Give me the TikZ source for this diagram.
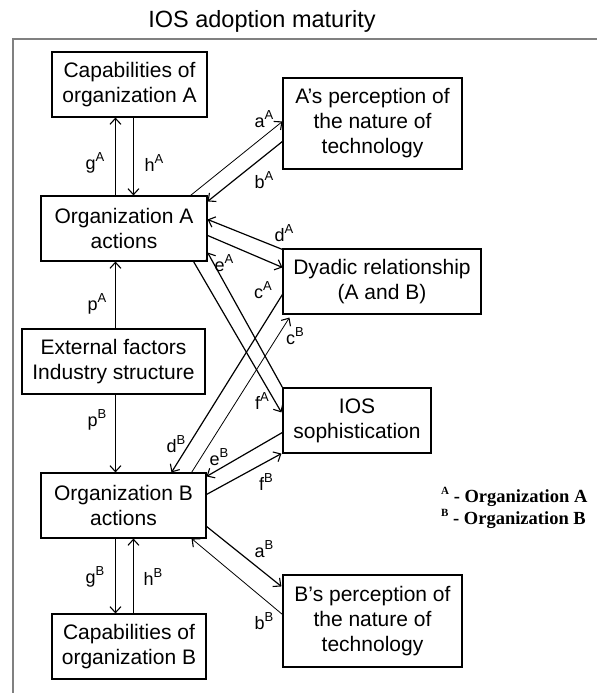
\documentclass[tikz,border=0pt]{standalone}
\usepackage{fontspec}
\setmainfont{Liberation Sans}
\newfontfamily\legendfont{Liberation Serif}
\usetikzlibrary{arrows.meta,calc}

% letter with a raised organisation index, e.g. g^A
\newcommand\edgelabel[2]{#1\raisebox{0.42em}{\fontsize{13}{13}\selectfont #2}}

\begin{document}
\begin{tikzpicture}[x=1pt,y=-1pt,
  box/.style={draw, line width=1.1pt, inner sep=0pt, align=center,
    font=\fontsize{21}{25}\selectfont},
  tip/.style={-{Straight Barb[length=6pt,width=11pt,line width=1.1pt]}},
  thinarrow/.style={tip, line width=0.8pt},
  midarrow/.style={tip, line width=1.2pt},
  thickarrow/.style={tip, line width=1.9pt},
  lab/.style={font=\fontsize{18}{18}\selectfont, inner sep=0pt},
  frame/.style={draw=black!50, line width=1.5pt}
]
\useasboundingbox (0,0) rectangle (597,693);

% heading and the grey frame below it
\node[font=\fontsize{23.5}{23.5}\selectfont, anchor=base] (title) at (262,28) {IOS adoption maturity};
\draw[frame] (13,693) -- (13,39) -- (597,39);

% boxes
\node[box, minimum width=155pt, minimum height=65pt] (capA)  at (129.5,84.5) {Capabilities of\\organization A};
\node[box, minimum width=179pt, minimum height=91pt] (percA) at (372.5,123.5) {A’s perception of\\the nature of\\technology};
\node[box, minimum width=166pt, minimum height=65pt] (orgA)  at (124,228.5) {Organization A\\actions};
\node[box, minimum width=198pt, minimum height=65pt] (dyad)  at (382,281.5) {Dyadic relationship\\(A and B)};
\node[box, minimum width=183pt, minimum height=65pt] (ext)   at (113.5,361.5) {External factors\\Industry structure};
\node[box, minimum width=148pt, minimum height=65pt] (ios)   at (357,420.5) {IOS\\sophistication};
\node[box, minimum width=165pt, minimum height=65pt] (orgB)  at (123.5,505.5) {Organization B\\actions};
\node[box, minimum width=154pt, minimum height=65pt] (capB)  at (129,646.5) {Capabilities of\\organization B};
\node[box, minimum width=179pt, minimum height=92pt] (percB) at (372.5,621) {B’s perception of\\the nature of\\technology};

% organisation A and its capabilities
\draw[thickarrow] ($(orgA.north west)+(75,0)$) -- ($(capA.south west)+(64,0)$);
\draw[thinarrow]  ($(capA.south west)+(82,0)$) -- ($(orgA.north west)+(93,0)$);
% organisation B and its capabilities
\draw[thickarrow] ($(orgB.south west)+(75,0)$) -- ($(capB.north west)+(64,0)$);
\draw[thinarrow]  ($(capB.north west)+(82,0)$) -- ($(orgB.south west)+(93,0)$);
% external factors
\draw[thinarrow] ($(ext.north west)+(94,0)$) -- ($(orgA.south west)+(75,0)$);
\draw[thinarrow] ($(ext.south west)+(94,0)$) -- ($(orgB.north west)+(75,0)$);

% organisation A with perception, dyad and IOS
\draw[thinarrow] ($(orgA.north east)+(-17,0)$) -- ($(percA.north west)+(0,44)$);
\draw[midarrow]  ($(percA.north west)+(0,64)$) -- ($(orgA.north east)+(0,6)$);
\draw[midarrow]  ($(dyad.north west)+(0,1)$)   -- ($(orgA.north east)+(0,24)$);
\draw[midarrow]  ($(orgA.north east)+(0,40)$)  -- ($(dyad.north west)+(0,19)$);
\draw[midarrow]  (ios.north west)              -- ($(orgA.north east)+(0,57)$);
\draw[midarrow]  ($(orgA.south east)+(-14,0)$) -- ($(ios.north west)+(-1,25)$);

% organisation B with dyad, IOS and perception
\draw[thinarrow] ($(orgB.north east)+(-15,0)$) -- ($(dyad.south west)+(7,3)$);
\draw[midarrow]  ($(dyad.north west)+(0,46)$)  -- ($(orgB.north west)+(131,0)$);
\draw[midarrow]  ($(ios.north west)+(0,45)$)   -- ($(orgB.north east)+(0,4)$);
\draw[midarrow]  ($(orgB.north east)+(0,22)$)  -- ($(ios.south west)+(-1,0)$);
\draw[midarrow]  ($(orgB.north east)+(0,54)$)  -- ($(percB.north west)+(-1,12)$);
\draw[thinarrow] ($(percB.north west)+(0,40)$) -- ($(orgB.south east)+(-15,0)$);

% connector labels
\node[lab] (lgA) at (95,163)  {\edgelabel{g}{A}};
\node[lab] (lhA) at (154,163) {\edgelabel{h}{A}};
\node[lab] (laA) at (264,119) {\edgelabel{a}{A}};
\node[lab] (lbA) at (264,180) {\edgelabel{b}{A}};
\node[lab] (ldA) at (284,233) {\edgelabel{d}{A}};
\node[lab] (leA) at (224,263) {\edgelabel{e}{A}};
\node[lab] (lcA) at (263,290) {\edgelabel{c}{A}};
\node[lab] (lpA) at (97,304)  {\edgelabel{p}{A}};
\node[lab] (lcB) at (295,336) {\edgelabel{c}{B}};
\node[lab] (lfA) at (262,401) {\edgelabel{f}{A}};
\node[lab] (lpB) at (97,420)  {\edgelabel{p}{B}};
\node[lab] (ldB) at (176,444) {\edgelabel{d}{B}};
\node[lab] (leB) at (219,457) {\edgelabel{e}{B}};
\node[lab] (lfB) at (266,482) {\edgelabel{f}{B}};
\node[lab] (laB) at (264,549) {\edgelabel{a}{B}};
\node[lab] (lgB) at (95,577)  {\edgelabel{g}{B}};
\node[lab] (lhB) at (153,577) {\edgelabel{h}{B}};
\node[lab] (lbB) at (264,621) {\edgelabel{b}{B}};

% legend
\node[anchor=base west, inner sep=0pt, font=\legendfont\bfseries\fontsize{18.5}{18.5}\selectfont] (legA) at (441,502)
  {\raisebox{0.4em}{\fontsize{11}{11}\selectfont A} - Organization A};
\node[anchor=base west, inner sep=0pt, font=\legendfont\bfseries\fontsize{18.5}{18.5}\selectfont] (legB) at (441,524)
  {\raisebox{0.4em}{\fontsize{11}{11}\selectfont B} - Organization B};
\end{tikzpicture}
\end{document}
